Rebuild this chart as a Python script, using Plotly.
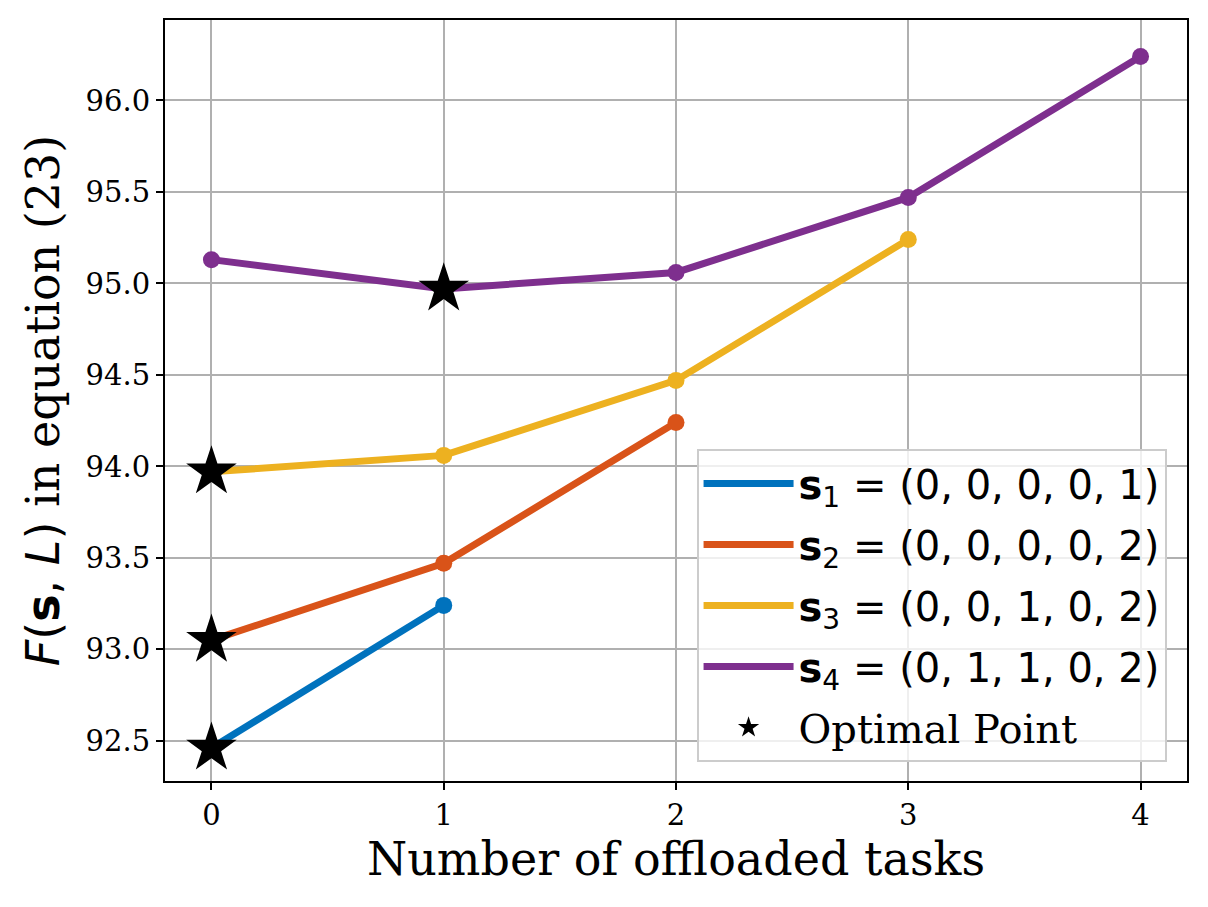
import plotly.graph_objects as go

# dados
vtX = [0, 1, 2, 3, 4]
vtS1 = [92.46, 93.24]
vtS2 = [93.05, 93.47, 94.24]
vtS3 = [93.97, 94.06, 94.47, 95.24]
vtS4 = [95.13, 94.97, 95.06, 95.47, 96.24]
vtOptX = [0, 0, 0, 1]
vtOptY = [92.46, 93.05, 93.97, 94.97]
vtNames = ["(0, 0, 0, 0, 1)", "(0, 0, 0, 0, 2)", "(0, 0, 1, 0, 2)", "(0, 1, 1, 0, 2)"]
vtColors = ["#0072BD", "#D95319", "#EDB120", "#7E2F8E"]

sSans = "font-family:'DejaVu Sans'"
fig = go.Figure()

for iS, vtY in enumerate([vtS1, vtS2, vtS3, vtS4]):
    sLabel = f"<span style=\"{sSans}\"><b>s</b><sub>{iS + 1}</sub> = {vtNames[iS]}</span>"
    # linha (entra na legenda)
    fig.add_trace(go.Scatter(
        x=vtX[:len(vtY)], y=vtY, mode="lines",
        line=dict(color=vtColors[iS], width=7),
        name=sLabel, legendgroup=f"s{iS + 1}"
    ))
    # marcadores (fora da legenda)
    fig.add_trace(go.Scatter(
        x=vtX[:len(vtY)], y=vtY, mode="markers",
        marker=dict(color=vtColors[iS], size=17),
        showlegend=False, legendgroup=f"s{iS + 1}"
    ))

fig.add_trace(go.Scatter(
    x=vtOptX, y=vtOptY, mode="markers",
    marker=dict(symbol="star", color="black", size=38, line=dict(width=0)),
    name="Optimal Point", legendgroup="opt"
))

sAxisTitle = (f"<span style=\"{sSans}\"><i>F</i>(<b>s</b>, <i>L</i>)</span> in equation (23)")

# a página tem 8 px de margem no body: figura um pouco menor
fig.update_layout(
    width=1192, height=891,
    margin=dict(l=157, r=13, t=10, b=118),
    paper_bgcolor="white", plot_bgcolor="white",
    font=dict(family="DejaVu Serif", size=29, color="black"),
    xaxis=dict(
        range=[-0.2, 4.2], tickvals=vtX, ticktext=[str(x) for x in vtX],
        showgrid=True, gridcolor="#b0b0b0", gridwidth=1.6,
        showline=True, linecolor="black", linewidth=2, mirror=True,
        ticks="outside", ticklen=7, tickwidth=1.6, tickcolor="black",
        zeroline=False,
        title=dict(text="Number of offloaded tasks", font=dict(size=46), standoff=10)
    ),
    yaxis=dict(
        range=[92.28, 96.44], tickvals=[92.5, 93.0, 93.5, 94.0, 94.5, 95.0, 95.5, 96.0],
        tickformat=".1f",
        showgrid=True, gridcolor="#b0b0b0", gridwidth=1.6,
        showline=True, linecolor="black", linewidth=2, mirror=True,
        ticks="outside", ticklen=7, tickwidth=1.6, tickcolor="black",
        zeroline=False,
        title=dict(text=sAxisTitle, font=dict(size=46), standoff=12)
    ),
    legend=dict(
        x=0.98, y=0.025, xanchor="right", yanchor="bottom",
        bgcolor="rgba(255,255,255,0.8)", bordercolor="#cccccc", borderwidth=2,
        font=dict(size=40), itemwidth=90, tracegroupgap=6
    ),
    showlegend=True
)

fig.write_html("out.html")
